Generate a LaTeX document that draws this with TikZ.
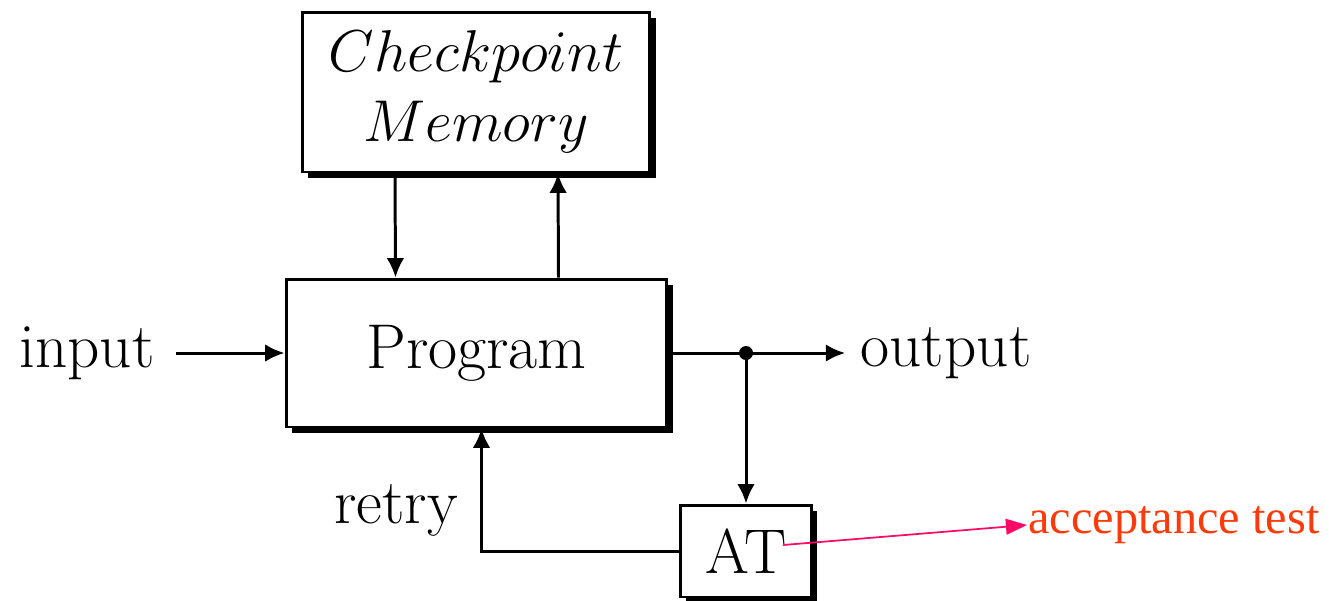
\documentclass[tikz,border=0pt]{standalone}
\usepackage{fontspec}
\usepackage{graphicx}
\newfontfamily\accfont{Liberation Serif}
\usetikzlibrary{calc,shadows,arrows.meta}
\definecolor{atred}{HTML}{FF3A0A}
\definecolor{atpink}{HTML}{FF0A66}
\begin{document}
\begin{tikzpicture}[x=0.02cm,y=-0.02cm,
  line width=1.7pt,
  box/.style={draw,fill=white,inner sep=0pt,
    drop shadow={shadow xshift=3.4pt,shadow yshift=-3.4pt,fill=black,opacity=1}},
  lbl/.style={inner sep=0pt,font=\fontsize{36}{40}\selectfont},
  arr/.style={-{Latex[length=11pt,width=10pt]}}]
\useasboundingbox (0,0) rectangle (1329,600);

% blocks
\node[box,minimum width=6.96cm,minimum height=3.2cm,
  font=\fontsize{32}{40}\selectfont,align=center] (cp) at (476,92)
  {\scalebox{1.35}{$Checkpoint$}\\\scalebox{1.35}{$Memory$}};
\node[box,minimum width=7.62cm,minimum height=2.96cm,
  font=\fontsize{36}{40}\selectfont] (prog) at (476.5,353) {Program};
\node[box,minimum width=2.62cm,minimum height=1.84cm,
  font=\fontsize{36}{40}\selectfont] (at) at (746,551) {AT};

% free labels
\node[lbl] (inp) at (87,353) {input};
\node[lbl] (outp) at (946,353) {output};
\node[lbl] (retry) at (396,510) {retry};
\node[inner sep=0pt,text=atred] (acc) at (1174,525)
  {\fontsize{27.5}{30}\accfont acceptance test};

% junction on the output line
\coordinate (j) at (746,353);

% connectors
\draw[arr] ($(cp.south)+(-81,0)$) -- ($(prog.north)+(-81,0)$);
\draw[arr] ($(prog.north)+(82,0)$) -- ($(cp.south)+(82,0)$);
\draw[arr] ($(inp.east)+(20,0)$) -- (prog.west);
\draw (prog.east) -- (j);
\draw[arr] (j) -- ($(outp.west)+(-14,0)$);
\fill (j) circle (7);
\draw[arr] (j) -- (at.north);
\draw[arr] (at.west) -| ($(prog.south)+(5,0)$);
\draw[atpink,line width=1pt,-{Triangle[length=12pt,width=9pt]}]
  ($(at.center)+(37,-6)$) -- (acc.west);
\end{tikzpicture}
\end{document}
